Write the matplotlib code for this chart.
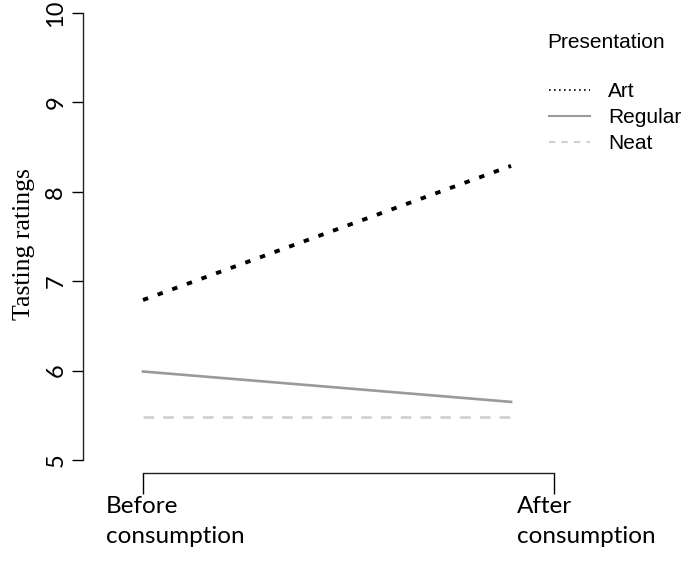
import matplotlib
matplotlib.use('Agg')
import matplotlib.pyplot as plt
from matplotlib.lines import Line2D
from matplotlib.transforms import ScaledTranslation

# data
phases = ['Before\nconsumption', 'After\nconsumption']
presentation = ['Art', 'Regular', 'Neat']
art = [6.79, 8.29]
regular = [5.99, 5.65]
neat = [5.48, 5.48]

styles = {
    'Art': dict(color='black', ls=(0, (1.4, 2.6)), lw=2.8),
    'Regular': dict(color='#9a9a9a', ls='-', lw=1.9),
    'Neat': dict(color='#cfcfcf', ls=(0, (4, 3.5)), lw=1.9),
}

fig = plt.figure(figsize=(6.85, 5.61), dpi=100)
ax = fig.add_axes([83 / 685, 101 / 561, 597 / 685, 447 / 561])

x = [0, 1]
for name, vals in zip(presentation, [art, regular, neat]):
    ax.plot(x, vals, **styles[name])

ax.set_ylim(5, 10)
ax.set_xlim(-0.163, 1.459)

# y axis
ax.set_yticks([5, 6, 7, 8, 9, 10])
ax.tick_params(axis='y', length=8, width=1, pad=4, labelsize=17, labelrotation=90)
for lbl in ax.get_yticklabels():
    lbl.set_family('Lato')
    lbl.set_va('center')
ax.set_ylabel('Tasting ratings', family='Liberation Serif', fontsize=18.5)
ax.yaxis.set_label_coords(-0.08, 0.483)

# x axis: bracket with two ticks
xt = [0, 1.117]
ax.set_xticks(xt, phases)
ax.spines['bottom'].set_position(('outward', 9))
ax.spines['bottom'].set_bounds(xt[0], xt[1])
ax.tick_params(axis='x', length=15, width=1, pad=2, labelsize=17.5)
for lbl in ax.get_xticklabels():
    lbl.set_family('Lato')
    lbl.set_ha('left')
    lbl.set_multialignment('left')
    lbl.set_linespacing(1.5)
    lbl.set_transform(lbl.get_transform() + ScaledTranslation(-0.37, 0, fig.dpi_scale_trans))

for s in ['top', 'right']:
    ax.spines[s].set_visible(False)
for s in ['left', 'bottom']:
    ax.spines[s].set_linewidth(1)
    ax.spines[s].set_color('#222222')

# legend
fig.text(547 / 685, 1 - 42 / 561, 'Presentation', family='Liberation Sans',
         fontsize=15, va='center', ha='left')
handles = [
    Line2D([], [], color='black', ls=(0, (1, 2)), lw=1.2),
    Line2D([], [], color='#9a9a9a', ls='-', lw=1.5),
    Line2D([], [], color='#d0d0d0', ls=(0, (3, 3)), lw=1.5),
]
fig.legend(handles, presentation, loc='upper left',
           bbox_to_anchor=(549 / 685, 1 - 82 / 561), frameon=False,
           prop={'family': 'Liberation Sans', 'size': 15},
           handlelength=1.95, handletextpad=0.9, labelspacing=0.34,
           borderaxespad=0, borderpad=0)

fig.savefig('out.png', dpi=100)
